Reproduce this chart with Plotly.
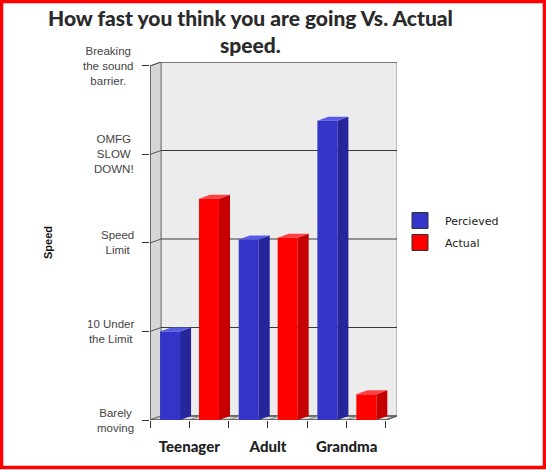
import plotly.graph_objects as go

# ---------------- data ----------------
categories = ["Teenager", "Adult", "Grandma"]
series_names = ["Percieved", "Actual"]
perceived = [1.0, 2.04, 3.38]
actual = [2.5, 2.06, 0.29]
speed_levels = [0, 1, 2, 3, 4]
speed_labels = ["Barely<br>moving", "10 Under<br>the Limit", "Speed<br>Limit",
                "OMFG<br>SLOW<br>DOWN!", "Breaking<br>the sound<br>barrier."]
title_text = "How fast you think you are going Vs. Actual<br>speed."
axis_title = "Speed"

# ---------------- geometry / style ----------------
FIG_W, FIG_H = 546, 470
L, R, T, B = 150, 397, 62, 420
PW, PH = R - L, B - T
DX, DY = 0.14, 0.045          # 3D depth in axis units
YMAX = max(speed_levels)
N = len(categories)
BAR_W = 0.254
OFFS = [-0.372, 0.123]
front = ["#3434c8", "#ff0000"]
side = ["#25259c", "#c40000"]
top = ["#5a5ae8", "#ff4040"]
HEAVY = "Lato, Liberation Sans, Arial, sans-serif"


def px(xp):
    return (xp - L) / PW


def py(yp):
    return (B - yp) / PH


fig = go.Figure()
shapes = []

x0w, x1w = -0.5, N - 0.5


def poly(pts, fill, line="rgba(0,0,0,0)", lw=0):
    path = "M " + " L ".join(f"{a},{b}" for a, b in pts) + " Z"
    return dict(type="path", path=path, xref="x", yref="y", fillcolor=fill,
                line=dict(color=line, width=lw), layer="below")


def seg(a, b, c, d, color="#444", w=1):
    return dict(type="line", x0=a, y0=b, x1=c, y1=d, xref="x", yref="y",
                line=dict(color=color, width=w), layer="below")


# back wall
shapes.append(poly([(x0w + DX, DY), (x1w + DX, DY), (x1w + DX, YMAX + DY), (x0w + DX, YMAX + DY)],
                   "#ececec", "#888", 1))
# side wall
shapes.append(poly([(x0w, 0), (x0w + DX, DY), (x0w + DX, YMAX + DY), (x0w, YMAX)], "#d6d6d6", "#777", 1))
# floor
shapes.append(poly([(x0w, 0), (x1w, 0), (x1w + DX, DY), (x0w + DX, DY)], "#d9d9d9", "#777", 1))
# gridlines on back wall + slants on side wall
for v in speed_levels:
    shapes.append(seg(x0w + DX, v + DY, x1w + DX, v + DY, "#3a3a3a", 1))
    shapes.append(seg(x0w, v, x0w + DX, v + DY, "#555", 1))
# floor dividers at category ticks
for k in range(2 * N + 1):
    xv = x0w + k * 0.5
    shapes.append(seg(xv, 0, xv + DX, DY, "#888", 1))
# front axis lines
shapes.append(seg(x0w, 0, x0w, YMAX, "#333", 1))
shapes.append(seg(x0w, 0, x1w, 0, "#333", 1))
shapes.append(seg(x1w, 0, x1w + DX, DY, "#555", 1))

# 3D faces of bars
for si, vals in enumerate([perceived, actual]):
    for ci, v in enumerate(vals):
        a = ci + OFFS[si]
        b = a + BAR_W
        shapes.append(poly([(b, 0), (b + DX, DY), (b + DX, v + DY), (b, v)], side[si]))
        shapes.append(poly([(a, v), (b, v), (b + DX, v + DY), (a + DX, v + DY)], top[si]))

for si, vals in enumerate([perceived, actual]):
    fig.add_trace(go.Bar(
        x=list(range(N)), y=vals, width=BAR_W, offset=OFFS[si],
        marker=dict(color=front[si], line=dict(width=0)),
        name=series_names[si], showlegend=False, hoverinfo="y"))
    fig.add_trace(go.Scatter(
        x=[None], y=[None], mode="markers", name=series_names[si],
        legendgroup=series_names[si],
        marker=dict(symbol="square", size=16, color=front[si],
                    line=dict(color="#333", width=1))))

annotations = []
for v, lab in zip(speed_levels, speed_labels):
    annotations.append(dict(x=0, xref="paper", y=v, yref="y", text=lab, showarrow=False,
                            xanchor="right", yanchor="middle", xshift=-14, align="center",
                            font=dict(family="Liberation Sans, Arial, sans-serif", size=11.5, color="#444")))
annotations.append(dict(x=px(48), xref="paper", y=py(243), yref="paper", text="<b>" + axis_title + "</b>",
                        showarrow=False, textangle=-90, xanchor="center", yanchor="middle",
                        font=dict(family="Liberation Sans, Arial, sans-serif", size=11, color="#111")))
# title
annotations.append(dict(x=px(250), xref="paper", y=py(3), yref="paper", text=title_text,
                        showarrow=False, xanchor="center", yanchor="top", align="center",
                        font=dict(family=HEAVY, size=21, color="#2a2a2a", weight=900)))
# red frame
shapes.append(dict(type="rect", xref="paper", yref="paper",
                   x0=px(1.5), x1=px(544.5), y0=py(1.5), y1=py(467.5),
                   line=dict(color="#ff0000", width=3.5), layer="above"))

xt_vals = [x0w + k * 0.5 for k in range(2 * N + 1)]
xt_text = ["" if k % 2 == 0 else categories[k // 2] for k in range(2 * N + 1)]

fig.update_layout(
    width=FIG_W, height=FIG_H, autosize=False,
    margin=dict(l=L, r=FIG_W - R, t=T, b=FIG_H - B, pad=0),
    paper_bgcolor="white", plot_bgcolor="white",
    barmode="overlay",
    xaxis=dict(range=[x0w, x1w + DX], tickvals=xt_vals, ticktext=xt_text, ticks="outside",
               ticklen=7, tickcolor="#333", showgrid=False, zeroline=False, showline=False,
               ticklabelstandoff=6,
               tickfont=dict(family=HEAVY, size=15, color="#222", weight=900)),
    yaxis=dict(range=[0, YMAX + DY], tickvals=speed_levels, showticklabels=False, ticks="outside",
               ticklen=7, tickcolor="#333", showgrid=False, zeroline=False, showline=False),
    legend=dict(x=px(395), xanchor="left", y=py(206), yanchor="top", bgcolor="rgba(0,0,0,0)",
                font=dict(family="DejaVu Sans, Verdana, sans-serif", size=11, color="#222"),
                tracegroupgap=3, itemwidth=40),
    shapes=shapes,
    annotations=annotations,
)

fig.write_html("out.html", config={"displayModeBar": False},
               post_script="document.body.style.margin='0px';")
